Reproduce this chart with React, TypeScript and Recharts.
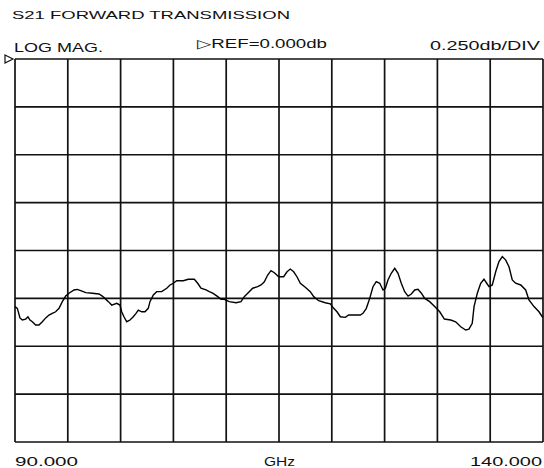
import React from 'react';
import { LineChart, Line, XAxis, YAxis, ReferenceLine } from 'recharts';

const freqGHz = [
  90.0, 90.22, 90.47, 90.69, 91.01, 91.23, 91.42, 91.64, 91.96, 92.27,
  92.59, 92.91, 93.22, 93.53, 93.85, 94.17, 94.48, 94.8, 95.11, 95.59,
  95.9, 96.22, 96.7, 97.32, 97.95, 98.27, 98.52, 98.84, 99.16, 99.63,
  99.94, 100.1, 100.32, 100.58, 100.89, 101.2, 101.46, 101.68, 102.0, 102.31,
  102.62, 102.78, 103.1, 103.42, 103.89, 104.37, 104.68, 104.99, 105.31, 105.94,
  106.41, 106.98, 107.3, 107.61, 108.09, 108.4, 108.72, 109.2, 109.51, 109.82,
  110.29, 110.93, 111.4, 111.71, 112.04, 112.51, 112.98, 113.3, 113.61, 113.93,
  114.24, 114.56, 114.97, 115.44, 115.76, 116.07, 116.39, 116.7, 117.02, 117.49,
  117.96, 118.29, 118.76, 119.38, 119.86, 120.18, 120.49, 120.81, 121.28, 121.6,
  122.23, 122.7, 122.95, 123.27, 123.59, 123.9, 124.21, 124.54, 124.85, 125.07,
  125.32, 125.63, 125.96, 126.27, 126.58, 126.9, 127.22, 127.53, 127.85, 128.16,
  128.48, 128.8, 129.27, 129.74, 130.22, 130.66, 131.26, 131.73, 132.21, 132.68,
  132.99, 133.3, 133.47, 133.78, 134.1, 134.41, 134.67, 134.89, 135.2, 135.52,
  135.83, 136.15, 136.47, 136.78, 137.09, 137.41, 137.89, 138.36, 138.67, 139.15,
  139.62, 139.93, 140.0,
];

const s21dB = [
  -1.293, -1.302, -1.352, -1.363, -1.358, -1.346, -1.363, -1.372, -1.389, -1.389,
  -1.372, -1.352, -1.337, -1.328, -1.32, -1.302, -1.267, -1.238, -1.223, -1.206,
  -1.203, -1.21, -1.22, -1.223, -1.227, -1.238, -1.25, -1.267, -1.285, -1.276,
  -1.285, -1.32, -1.346, -1.372, -1.363, -1.346, -1.328, -1.311, -1.32, -1.32,
  -1.302, -1.267, -1.232, -1.215, -1.215, -1.197, -1.18, -1.171, -1.158, -1.158,
  -1.15, -1.15, -1.171, -1.197, -1.206, -1.215, -1.223, -1.241, -1.255, -1.255,
  -1.267, -1.273, -1.267, -1.241, -1.223, -1.197, -1.189, -1.18, -1.163, -1.128,
  -1.105, -1.116, -1.137, -1.137, -1.111, -1.097, -1.111, -1.137, -1.171, -1.192,
  -1.215, -1.241, -1.262, -1.273, -1.279, -1.302, -1.32, -1.346, -1.349, -1.337,
  -1.337, -1.337, -1.328, -1.302, -1.25, -1.189, -1.163, -1.171, -1.206, -1.197,
  -1.154, -1.119, -1.093, -1.119, -1.171, -1.215, -1.238, -1.227, -1.206, -1.203,
  -1.223, -1.25, -1.267, -1.293, -1.32, -1.358, -1.363, -1.372, -1.398, -1.415,
  -1.411, -1.38, -1.293, -1.223, -1.171, -1.15, -1.171, -1.189, -1.18, -1.111,
  -1.058, -1.032, -1.05, -1.085, -1.154, -1.171, -1.18, -1.206, -1.258, -1.293,
  -1.32, -1.346, -1.35,
];

const xTicks = [90, 95, 100, 105, 110, 115, 120, 125, 130, 135, 140];
const yTicks = [0, -0.25, -0.5, -0.75, -1, -1.25, -1.5, -1.75, -2];

const titleText = 'S21 FORWARD TRANSMISSION';
const formatText = 'LOG MAG.';
const refText = '\u25B7REF=0.000db';
const scaleText = '0.250db/DIV';
const startText = '90.000';
const unitText = 'GHz';
const stopText = '140.000';

const data = freqGHz.map((f, i) => ({ f, v: s21dB[i] }));

const FONT = '"Liberation Sans", Arial, "DejaVu Sans", sans-serif';
const GRID = '#111';

export default function App() {
  return (
    <div style={{ position: 'absolute', left: 0, top: 0, width: 544, height: 468, background: '#fff', overflow: 'hidden' }}>
      <LineChart width={544} height={468} data={data} margin={{ top: 59, right: 1, bottom: 26, left: 15 }}>
        <XAxis type="number" dataKey="f" domain={[90, 140]} ticks={xTicks} hide />
        <YAxis type="number" domain={[-2, 0]} ticks={yTicks} hide />
        {xTicks.map((t) => (
          <ReferenceLine key={'x' + t} x={t} stroke={GRID} strokeWidth={1.7} ifOverflow="visible" />
        ))}
        {yTicks.map((t) => (
          <ReferenceLine key={'y' + t} y={t} stroke={GRID} strokeWidth={1.7} ifOverflow="visible" />
        ))}
        <Line type="linear" dataKey="v" stroke="#000" strokeWidth={1.4} dot={false} isAnimationActive={false} />
      </LineChart>
      <svg width={544} height={468} style={{ position: 'absolute', left: 0, top: 0, pointerEvents: 'none' }}>
        <g fill="#111" fontFamily={FONT}>
          <text x={12} y={18.5} fontSize={11.5} textLength={278} lengthAdjust="spacingAndGlyphs">{titleText}</text>
          <text x={14} y={52} fontSize={13} textLength={89} lengthAdjust="spacingAndGlyphs">{formatText}</text>
          <text x={197} y={48.3} fontSize={12.5} textLength={130} lengthAdjust="spacingAndGlyphs">{refText}</text>
          <text x={430} y={49.5} fontSize={12.5} textLength={110} lengthAdjust="spacingAndGlyphs">{scaleText}</text>
          <text x={15} y={465.5} fontSize={13.5} textLength={63} lengthAdjust="spacingAndGlyphs">{startText}</text>
          <text x={264} y={465.5} fontSize={13.5} textLength={31} lengthAdjust="spacingAndGlyphs">{unitText}</text>
          <text x={470} y={465.5} fontSize={13.5} textLength={72} lengthAdjust="spacingAndGlyphs">{stopText}</text>
        </g>
        <path d="M5,55 L13,59 L5,63 Z" fill="none" stroke="#111" strokeWidth={1.2} />
      </svg>
    </div>
  );
}
